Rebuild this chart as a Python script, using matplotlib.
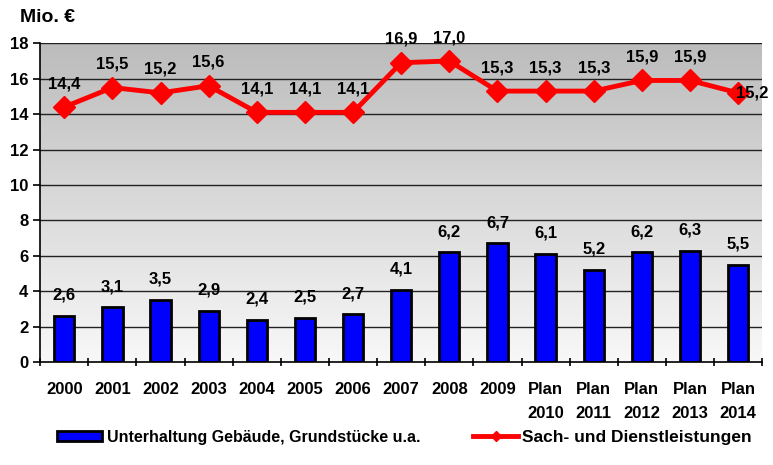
import numpy as np
import matplotlib.pyplot as plt
from matplotlib.patches import Patch
from matplotlib.lines import Line2D

plt.rcParams['font.family'] = ['Liberation Sans', 'DejaVu Sans']
plt.rcParams['font.weight'] = 'bold'

categories = ['2000', '2001', '2002', '2003', '2004', '2005', '2006', '2007', '2008', '2009',
              'Plan\n2010', 'Plan\n2011', 'Plan\n2012', 'Plan\n2013', 'Plan\n2014']
gebaeude = [2.6, 3.1, 3.5, 2.9, 2.4, 2.5, 2.7, 4.1, 6.2, 6.7, 6.1, 5.2, 6.2, 6.3, 5.5]
sach = [14.4, 15.5, 15.2, 15.6, 14.1, 14.1, 14.1, 16.9, 17.0, 15.3, 15.3, 15.3, 15.9, 15.9, 15.2]

def fmt(v):
    return f'{v:.1f}'.replace('.', ',')

fig = plt.figure(figsize=(7.73, 4.65), dpi=100)
ax = fig.add_axes([0.052, 0.221, 0.934, 0.686])

x = np.arange(len(categories))
ax.set_xlim(-0.5, len(categories) - 0.5)
ax.set_ylim(0, 18)

# gray-to-white gradient background
grad = np.linspace(0, 1, 256).reshape(-1, 1)
cmap = plt.matplotlib.colors.LinearSegmentedColormap.from_list('g', ['#f8f8f8', '#bcbcbc'])
ax.imshow(grad, cmap=cmap, extent=[-0.5, len(categories) - 0.5, 0, 18],
          origin='lower', aspect='auto', zorder=0)

for yv in range(2, 19, 2):
    ax.axhline(yv, color='#222222', lw=1.0, zorder=1)

ax.bar(x, gebaeude, width=0.42, color='#0000ff', edgecolor='black', linewidth=2, zorder=2)
ax.plot(x, sach, color='#ff0000', lw=3.5, marker='D', markersize=11, zorder=3)

for xi, v in zip(x, gebaeude):
    ax.text(xi, v + 0.75, fmt(v), ha='center', va='bottom', fontsize=12, fontweight='bold')
for i, (xi, v) in enumerate(zip(x, sach)):
    if i == len(sach) - 1:
        ax.text(xi - 0.05, v, fmt(v), ha='left', va='center', fontsize=12, fontweight='bold')
    else:
        ax.text(xi, v + 0.9, fmt(v), ha='center', va='bottom', fontsize=12, fontweight='bold')

for s in ['top', 'right']:
    ax.spines[s].set_visible(False)
ax.spines['left'].set_linewidth(1.2)
ax.spines['bottom'].set_linewidth(1.2)

ax.set_yticks(range(0, 19, 2))
ax.tick_params(axis='y', labelsize=12, length=5, direction='out', width=1.2)
ax.set_xticks(x)
ax.set_xticklabels(categories, fontsize=12, fontweight='bold', linespacing=1.75)
ax.tick_params(axis='x', which='major', length=0, pad=14)
ax.set_xticks(np.arange(-0.5, len(categories), 1), minor=True)
ax.tick_params(axis='x', which='minor', length=6, width=1.2, direction='inout')
for lbl in ax.get_yticklabels():
    lbl.set_fontweight('bold')

fig.text(0.026, 0.962, 'Mio. €', fontsize=14, fontweight='bold', va='center')

h1 = Patch(facecolor='#0000ff', edgecolor='black', linewidth=2)
h2 = Line2D([0], [0], color='#ff0000', lw=3.5, marker='D', markersize=5)
fig.legend([h1], ['Unterhaltung Gebäude, Grundstücke u.a.'],
           loc='center left', bbox_to_anchor=(0.074, 0.06), frameon=False,
           fontsize=11.5, handlelength=2.8, handleheight=0.6, handletextpad=0.3,
           borderpad=0, borderaxespad=0)
fig.legend([h2], ['Sach- und Dienstleistungen'],
           loc='center left', bbox_to_anchor=(0.612, 0.06), frameon=False,
           fontsize=12.5, handlelength=2.6, handletextpad=0.2,
           borderpad=0, borderaxespad=0)

fig.savefig('out.png', dpi=100)
